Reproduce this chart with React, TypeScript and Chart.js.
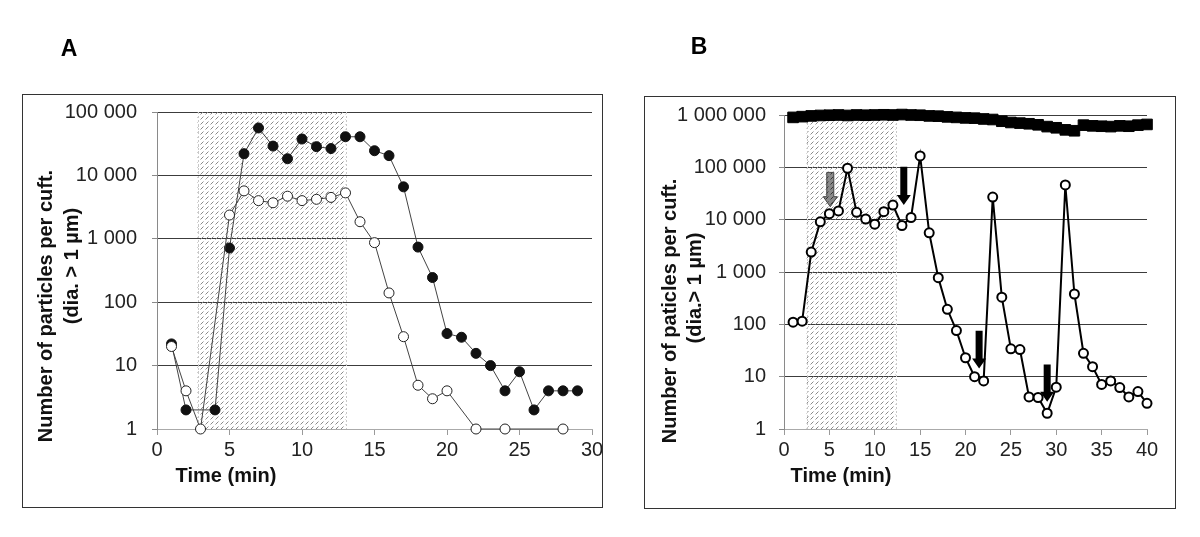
import React, { useEffect, useRef } from "react";
import { Chart, registerables } from "chart.js";

Chart.register(...registerables);

const FONT = "'Liberation Sans', Arial, Helvetica, sans-serif";

// ---------- Panel A ----------
const minutesA = [1, 2, 3, 4, 5, 6, 7, 8, 9, 10, 11, 12, 13, 14, 15, 16, 17, 18, 19, 20, 21, 22, 23, 24, 25, 26, 27, 28, 29];
const filledA = [22, 2, null, 2, 716, 22000, 56000, 29000, 18300, 37500, 28400, 26500, 40700, 40700, 24500, 20500, 6600, 740, 245, 32, 28, 15.6, 10, 4, 8, 2, 4, 4, 4];
const openA = [20, 4, 1, null, 2370, 5700, 4000, 3700, 4700, 4000, 4200, 4500, 5300, 1860, 870, 140, 28.6, 4.9, 3, 4, null, 1, null, 1, null, null, null, 1, null];
const yTicksA = [1, 10, 100, 1000, 10000, 100000];
const xRangeA = [0, 30];
const shadeA = [2.8, 13];

// ---------- Panel B ----------
const minutesB = [1, 2, 3, 4, 5, 6, 7, 8, 9, 10, 11, 12, 13, 14, 15, 16, 17, 18, 19, 20, 21, 22, 23, 24, 25, 26, 27, 28, 29, 30, 31, 32, 33, 34, 35, 36, 37, 38, 39, 40];
const openB = [110, 115, 2400, 9100, 13000, 14700, 96000, 13800, 10300, 8200, 14200, 19000, 7700, 11000, 165000, 5600, 780, 194, 76, 23, 10, 8.3, 27000, 330, 34, 33, 4.1, 4, 2, 6.3, 46000, 380, 28, 15.5, 7.1, 8.3, 6.2, 4.1, 5.2, 3.1];
const squaresB = [900000, 930000, 960000, 980000, 990000, 1000000, 980000, 1000000, 990000, 1000000, 1010000, 1000000, 1020000, 1000000, 990000, 960000, 950000, 920000, 900000, 880000, 870000, 840000, 820000, 760000, 720000, 700000, 680000, 650000, 600000, 570000, 520000, 500000, 640000, 620000, 610000, 600000, 620000, 610000, 640000, 660000];
const yTicksB = [1, 10, 100, 1000, 10000, 100000, 1000000];
const xRangeB = [0, 40];
const shadeB = [2.5, 12.3];
const arrowTimes = [5.1, 13.2, 21.5, 29];
const arrowTops = [80000, 103000, 75, 17];
const arrowTips = [17700, 19000, 14.4, 3.3];
const arrowGrey = [true, false, false, false];

const fmt = (v: number) => String(Math.round(v)).replace(/\B(?=(\d{3})+(?!\d))/g, " ");

function makeHatch(ctx: CanvasRenderingContext2D, color = "#8a8a8a") {
  const c = document.createElement("canvas");
  c.width = 5;
  c.height = 5;
  const g = c.getContext("2d")!;
  g.strokeStyle = color;
  g.lineWidth = 1;
  g.beginPath();
  g.moveTo(0.5, 4.5);
  g.lineTo(3.5, 1.5);
  g.stroke();
  return ctx.createPattern(c, "repeat")!;
}

type Deco = {
  offsetX: number;
  box: [number, number, number, number];
  letter: { text: string; x: number; y: number };
  yTitles: { text: string; x: number; y: number }[];
  xTitle: { text: string; x: number; y: number };
  shade: number[];
  arrows?: boolean;
};

function decoPlugin(d: Deco) {
  return {
    id: "deco",
    beforeDraw(chart: any) {
      const ctx = chart.ctx as CanvasRenderingContext2D;
      ctx.save();
      ctx.fillStyle = "#fff";
      ctx.fillRect(0, 0, chart.width, chart.height);
      ctx.restore();
    },
    beforeDatasetsDraw(chart: any) {
      const ctx = chart.ctx as CanvasRenderingContext2D;
      const { chartArea, scales } = chart;
      const x0 = scales.x.getPixelForValue(d.shade[0]);
      const x1 = scales.x.getPixelForValue(d.shade[1]);
      ctx.save();
      ctx.fillStyle = makeHatch(ctx);
      ctx.fillRect(x0, chartArea.top, x1 - x0, chartArea.bottom - chartArea.top);
      ctx.strokeStyle = "#c8c8c8";
      ctx.setLineDash([2, 2]);
      ctx.lineWidth = 1;
      ctx.beginPath();
      ctx.moveTo(Math.round(x0) + 0.5, chartArea.top);
      ctx.lineTo(Math.round(x0) + 0.5, chartArea.bottom);
      ctx.moveTo(Math.round(x1) + 0.5, chartArea.top);
      ctx.lineTo(Math.round(x1) + 0.5, chartArea.bottom);
      ctx.stroke();
      ctx.restore();
    },
    afterDatasetsDraw(chart: any) {
      if (!d.arrows) return;
      const ctx = chart.ctx as CanvasRenderingContext2D;
      const { scales } = chart;
      arrowTimes.forEach((t, i) => {
        const x = scales.x.getPixelForValue(t);
        const yTop = scales.y.getPixelForValue(arrowTops[i]);
        const yTip = scales.y.getPixelForValue(arrowTips[i]);
        const shaftW = 7;
        const headW = 14;
        const headH = 10;
        ctx.save();
        ctx.beginPath();
        ctx.moveTo(x - shaftW / 2, yTop);
        ctx.lineTo(x + shaftW / 2, yTop);
        ctx.lineTo(x + shaftW / 2, yTip - headH);
        ctx.lineTo(x + headW / 2, yTip - headH);
        ctx.lineTo(x, yTip);
        ctx.lineTo(x - headW / 2, yTip - headH);
        ctx.lineTo(x - shaftW / 2, yTip - headH);
        ctx.closePath();
        if (arrowGrey[i]) {
          ctx.fillStyle = "#8a8a8a";
          ctx.fill();
          ctx.fillStyle = makeHatch(ctx, "#333");
          ctx.fill();
          ctx.strokeStyle = "#444";
          ctx.lineWidth = 1;
          ctx.stroke();
        } else {
          ctx.fillStyle = "#000";
          ctx.fill();
        }
        ctx.restore();
      });
    },
    afterDraw(chart: any) {
      const ctx = chart.ctx as CanvasRenderingContext2D;
      const ox = d.offsetX;
      ctx.save();
      ctx.strokeStyle = "#333";
      ctx.lineWidth = 1;
      const [bx0, by0, bx1, by1] = d.box;
      ctx.strokeRect(bx0 - ox + 0.5, by0 + 0.5, bx1 - bx0, by1 - by0);
      ctx.fillStyle = "#000";
      ctx.font = `bold 23px ${FONT}`;
      ctx.textAlign = "center";
      ctx.textBaseline = "middle";
      ctx.fillText(d.letter.text, d.letter.x - ox, d.letter.y);
      ctx.font = `bold 20px ${FONT}`;
      ctx.fillStyle = "#111";
      ctx.fillText(d.xTitle.text, d.xTitle.x - ox, d.xTitle.y);
      d.yTitles.forEach((yt) => {
        ctx.save();
        ctx.translate(yt.x - ox, yt.y);
        ctx.rotate(-Math.PI / 2);
        ctx.fillText(yt.text, 0, 0);
        ctx.restore();
      });
      ctx.restore();
    },
  };
}

function scalesFor(xRange: number[], yTicks: number[], yWidth: number, yPad: number) {
  return {
    x: {
      type: "linear",
      min: xRange[0],
      max: xRange[1],
      ticks: { stepSize: 5, font: { size: 20, family: FONT }, color: "#222", padding: 3, maxRotation: 0 },
      grid: { drawOnChartArea: false, tickLength: 6, tickColor: "#9a9a9a" },
      border: { color: "#aaa", width: 1 },
      afterFit: (s: any) => {
        s.height = 108;
      },
    },
    y: {
      type: "logarithmic",
      min: yTicks[0],
      max: yTicks[yTicks.length - 1],
      afterBuildTicks: (s: any) => {
        s.ticks = yTicks.map((v) => ({ value: v }));
      },
      ticks: {
        callback: (v: any) => fmt(Number(v)),
        font: { size: 20, family: FONT },
        color: "#222",
        padding: yPad,
      },
      grid: {
        color: (c: any) => (c.tick && c.tick.value === 1 ? "rgba(0,0,0,0)" : "#3c3c3c"),
        tickLength: 5,
        tickColor: "#8a8a8a",
        lineWidth: 1,
      },
      border: { color: "#8a8a8a", width: 1 },
      afterFit: (s: any) => {
        s.width = yWidth;
      },
    },
  };
}

export default function App() {
  const refA = useRef<HTMLCanvasElement>(null);
  const refB = useRef<HTMLCanvasElement>(null);

  useEffect(() => {
    Chart.defaults.font.family = FONT;
    const chartA = new Chart(refA.current!, {
      type: "line",
      data: {
        datasets: [
          {
            label: "open",
            data: minutesA.map((t, i) => ({ x: t, y: openA[i] })) as any,
            borderColor: "#444",
            borderWidth: 1,
            pointRadius: 5,
            pointBackgroundColor: "#fff",
            pointBorderColor: "#222",
            pointBorderWidth: 1,
            spanGaps: true,
            tension: 0,
            clip: false,
          },
          {
            label: "filled",
            data: minutesA.map((t, i) => ({ x: t, y: filledA[i] })) as any,
            borderColor: "#444",
            borderWidth: 1,
            pointRadius: 5,
            pointBackgroundColor: "#111",
            pointBorderColor: "#111",
            pointBorderWidth: 1,
            spanGaps: true,
            tension: 0,
            clip: false,
          },
        ],
      },
      options: {
        animation: false,
        responsive: false,
        layout: { padding: { left: 0, top: 112, right: 28, bottom: 0 } },
        plugins: { legend: { display: false }, tooltip: { enabled: false } },
        scales: scalesFor(xRangeA, yTicksA, 157, 15) as any,
      },
      plugins: [
        decoPlugin({
          offsetX: 0,
          box: [22, 94, 602, 507],
          letter: { text: "A", x: 69, y: 50 },
          yTitles: [
            { text: "Number of particles per cuft.", x: 46, y: 306 },
            { text: "(dia. > 1 µm)", x: 72, y: 266 },
          ],
          xTitle: { text: "Time (min)", x: 226, y: 476 },
          shade: shadeA,
        }) as any,
      ],
    });

    const chartB = new Chart(refB.current!, {
      type: "line",
      data: {
        datasets: [
          {
            label: "open",
            data: minutesB.map((t, i) => ({ x: t, y: openB[i] })) as any,
            borderColor: "#000",
            borderWidth: 2,
            pointRadius: 4.5,
            pointBackgroundColor: "#fff",
            pointBorderColor: "#000",
            pointBorderWidth: 2,
            spanGaps: true,
            tension: 0,
            clip: false,
          },
          {
            label: "squares",
            data: minutesB.map((t, i) => ({ x: t, y: squaresB[i] })) as any,
            borderColor: "#000",
            borderWidth: 2,
            pointStyle: "rect",
            pointRadius: 7.5,
            pointBackgroundColor: "#000",
            pointBorderColor: "#000",
            pointBorderWidth: 1,
            tension: 0,
            clip: false,
          },
        ],
      },
      options: {
        animation: false,
        responsive: false,
        layout: { padding: { left: 0, top: 115, right: 53, bottom: 0 } },
        plugins: { legend: { display: false }, tooltip: { enabled: false } },
        scales: scalesFor(xRangeB, yTicksB, 164, 13) as any,
      },
      plugins: [
        decoPlugin({
          offsetX: 620,
          box: [644, 96, 1175, 508],
          letter: { text: "B", x: 699, y: 48 },
          yTitles: [
            { text: "Number of paticles per cuft.", x: 670, y: 311 },
            { text: "(dia.> 1 µm)", x: 695, y: 288 },
          ],
          xTitle: { text: "Time (min)", x: 841, y: 476 },
          shade: shadeB,
          arrows: true,
        }) as any,
      ],
    });

    return () => {
      chartA.destroy();
      chartB.destroy();
    };
  }, []);

  return (
    <div style={{ position: "absolute", left: 0, top: 0, width: 1200, height: 537, background: "#fff" }}>
      <canvas ref={refA} width={620} height={537} style={{ position: "absolute", left: 0, top: 0, width: 620, height: 537 }} />
      <canvas ref={refB} width={580} height={537} style={{ position: "absolute", left: 620, top: 0, width: 580, height: 537 }} />
    </div>
  );
}
